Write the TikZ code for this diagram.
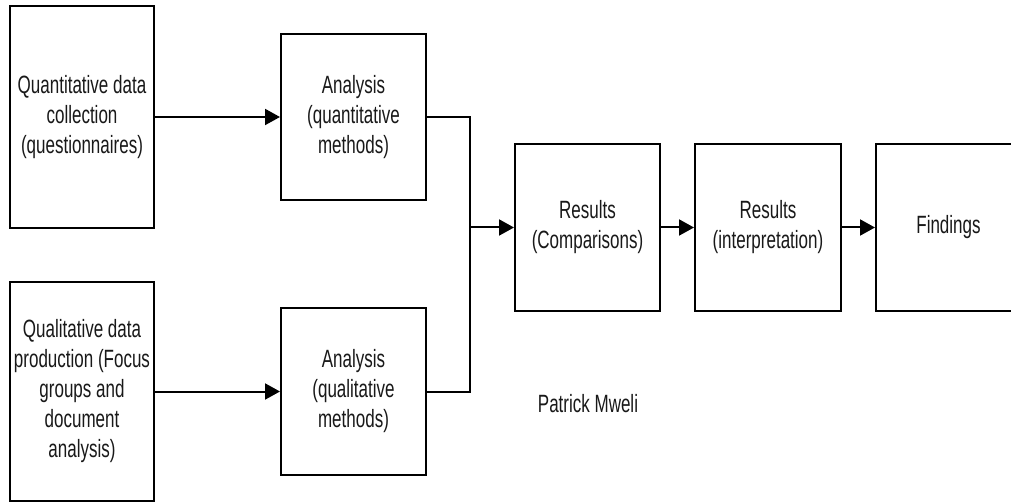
\documentclass[tikz,border=0pt]{standalone}
\usepackage{fontspec}
\setmainfont{Liberation Sans}[FakeStretch=0.68]
\usetikzlibrary{arrows.meta}
\begin{document}
\begin{tikzpicture}[x=1pt,y=-1pt,
  box/.style={draw=black, line width=2pt, rectangle, inner sep=0pt, align=center,
    font=\fontsize{25pt}{30pt}\selectfont, text=black!90},
  conn/.style={line width=2pt},
  arr/.style={line width=2pt, -{Triangle[length=15pt,width=16pt]}},
  lbl/.style={font=\fontsize{25pt}{30pt}\selectfont, text=black!90, inner sep=0pt}]
\useasboundingbox (0,0) rectangle (1011,502);
\fill[white] (0,0) rectangle (1011,502);
\node[box, minimum width=144pt, minimum height=222pt] (A) at (82,117)
  {Quantitative data\\collection\\(questionnaires)};
\node[box, minimum width=145pt, minimum height=166pt] (B) at (353.5,117)
  {Analysis\\(quantitative\\methods)};
\node[box, minimum width=144pt, minimum height=218pt] (C) at (82,391.5)
  {Qualitative data\\production (Focus\\groups and\\document\\analysis)};
\node[box, minimum width=145pt, minimum height=166pt] (D) at (353.5,391.5)
  {Analysis\\(qualitative\\methods)};
\node[box, minimum width=145pt, minimum height=167pt] (E) at (587.5,227.5)
  {Results\\(Comparisons)};
\node[box, minimum width=146pt, minimum height=167pt] (F) at (768,227.5)
  {Results\\(interpretation)};
\node[box, minimum width=145pt, minimum height=167pt] (G) at (948.5,227.5)
  {Findings};
\node[lbl] (P) at (588,404) {Patrick Mweli};
\coordinate (J) at (470,227.5);
\draw[arr] (A) -- (B);
\draw[arr] (C) -- (D);
\draw[conn] (B.east) -| (J);
\draw[conn] (D.east) -| (J);
\draw[arr] (J) -- (E.west);
\draw[arr] (E) -- (F);
\draw[arr] (F) -- (G);
\end{tikzpicture}
\end{document}
